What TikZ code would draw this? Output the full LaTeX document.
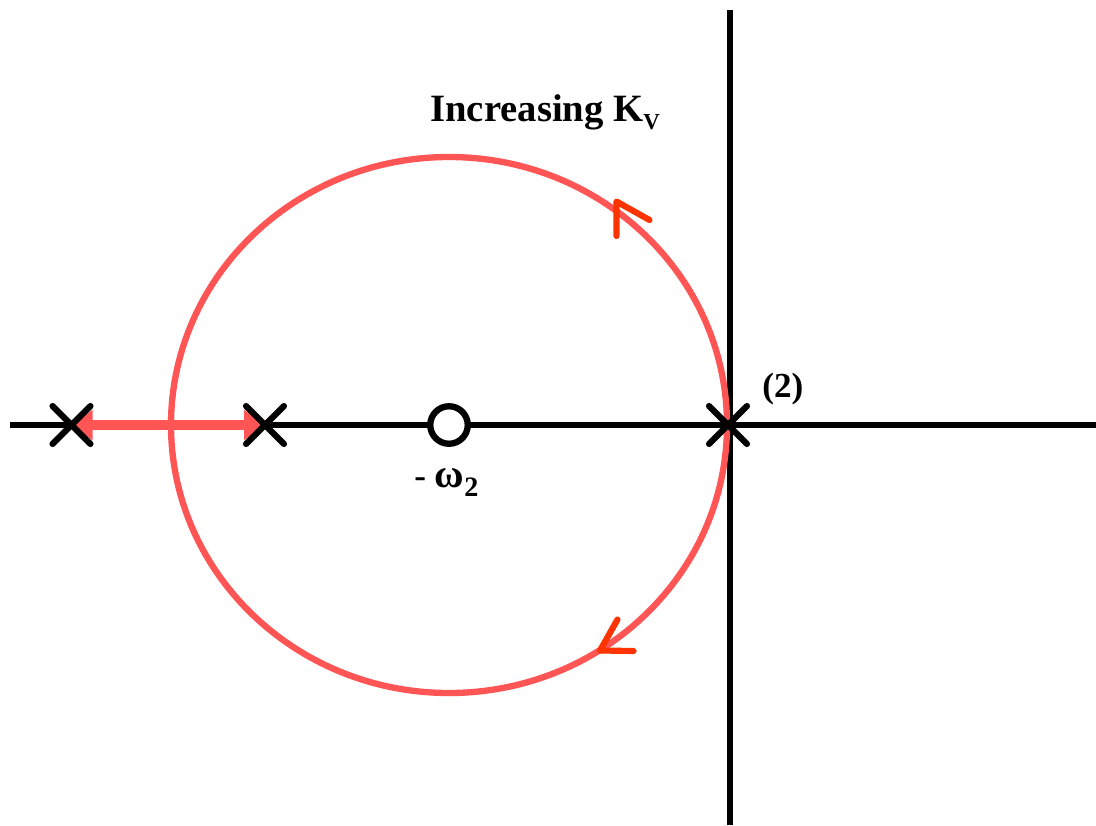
\documentclass[tikz,border=0pt]{standalone}
\usepackage{fontspec}
\setmainfont{Liberation Serif}
\usetikzlibrary{shapes.misc,arrows.meta}
\definecolor{locus}{HTML}{FF5555}
\definecolor{dirred}{HTML}{FF3300}
\tikzset{pole/.style={draw,cross out,inner sep=0pt,minimum size=0.63cm,
    line width=3.6pt,line cap=round},
  axis/.style={line width=3.6pt},
  lbl/.style={anchor=base west,inner sep=0pt},
  chevron/.style={dirred,line width=3.5pt,line cap=round,line join=round}}
\begin{document}
\begin{tikzpicture}[font=\bfseries\fontsize{20}{24}\selectfont]
    \useasboundingbox (0,0) rectangle (21.92,16.5);
    \coordinate (xl) at (0.2,8);
    \coordinate (xr) at (21.92,8);
    \coordinate (yt) at (14.6,16.3);
    \coordinate (yb) at (14.6,0);
    \draw[axis] (xl) -- (xr);
    \draw[axis] (yt) -- (yb);
    \draw[locus,line width=3.6pt] (8.98,8) ellipse [x radius=5.56,y radius=5.36];
    % poles
    \foreach \x [count=\i] in {1.43,5.3,14.56}
    \coordinate (c\i) at (\x,8);
    \draw[locus,line width=5.7pt,{Triangle[length=0.42cm,width=0.58cm]}-{Triangle[length=0.42cm,width=0.58cm]}]
        (c1) -- (c2);
    \foreach \i in {1,2,3}
    \node[pole] (p\i) at (c\i) {};
    \node[draw,circle,fill=white,line width=3.6pt,inner sep=0pt,
        minimum size=0.75cm] (z) at (8.98,8) {};
    \node[lbl] (w) at (8.28,6.76) {- {\fontsize{23}{26}\selectfont ω}\raisebox{-5.5pt}{\fontsize{16}{18}\selectfont 2}};
    \node[lbl] (m) at (15.24,8.56) {(2)};
    \node[lbl] (k) at (8.6,14.06) {\fontsize{22}{26}\selectfont Increasing K\raisebox{-4.5pt}{\fontsize{13}{15}\selectfont V}};
    % direction marks
    \draw[chevron] (12.33,11.78) -- (12.33,12.47) -- (12.99,12.1);
    \draw[chevron] (12.35,4.11) -- (12.0,3.49) -- (12.67,3.48);
\end{tikzpicture}
\end{document}
